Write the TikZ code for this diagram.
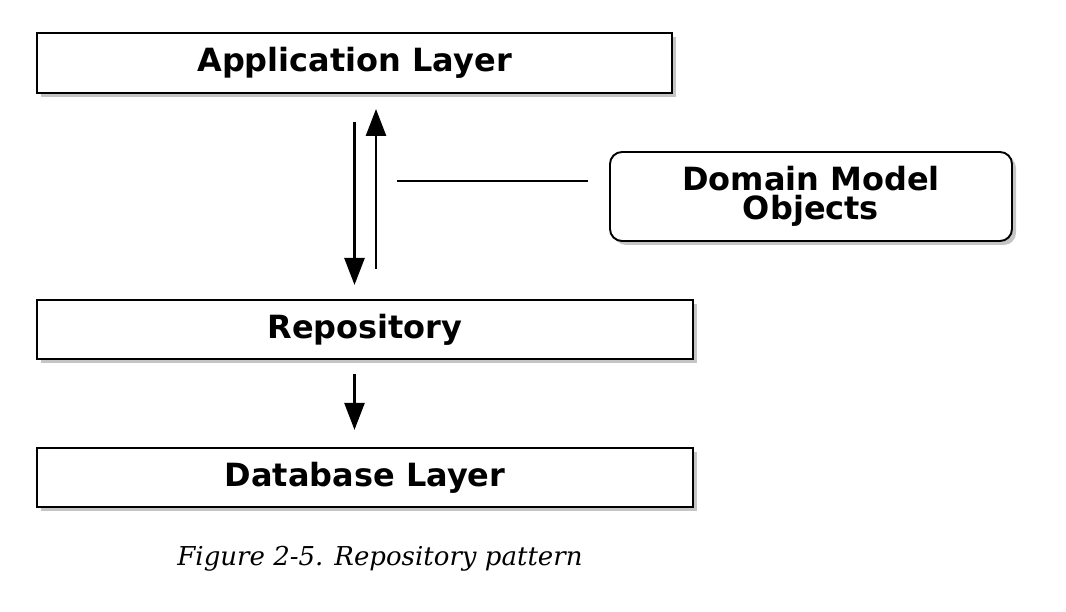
\documentclass[tikz,border=0pt]{standalone}
\usepackage{fontspec}
\setmainfont{DejaVu Sans}
\newfontfamily\captionfont{DejaVu Serif}
\usepackage{tikz}
\usetikzlibrary{calc, positioning, arrows.meta, shadows}
\tikzset{
    layer/.style={rectangle, draw=black, line width=1.1pt, fill=white, minimum width=13.12cm, minimum height=1.18cm, align=center, font=\fontsize{18.2}{16.5}\selectfont\bfseries, drop shadow={shadow xshift=0.08cm, shadow yshift=-0.08cm, fill=black!45}},
    model/.style={layer, rounded corners=0.24cm, minimum width=8.04cm, minimum height=1.78cm},
    line/.style={-{Triangle[length=0.54cm, width=0.4cm]}, line width=1.5pt},
    connect/.style={line width=1.1pt}
}

\begin{document}
\begin{tikzpicture}
    \useasboundingbox (0,0) rectangle (21.32,-12.24);

    % --- LAYERS (Left Side) ---
    \node[layer, minimum width=12.7cm, minimum height=1.2cm] (AppLayer) at (7.09,-1.26) {Application Layer};
    \node[layer, below=4.1cm of AppLayer.south west, anchor=north west] (Repo) {Repository};
    \node[layer, below=1.74cm of Repo.south west, anchor=north west] (DBLayer) {Database Layer};

    % --- DOMAIN MODEL (Right Side) ---
    \node[model] (Domain) at (16.22,-3.93) {Domain Model\\Objects};

    % Requests and results
    \draw[line, shorten <=0.56cm, shorten >=0.28cm] (AppLayer.south) -- (AppLayer.south |- Repo.north);
    \draw[line, shorten <=0.6cm, shorten >=0.3cm] ([xshift=0.43cm]AppLayer.south |- Repo.north) -- ([xshift=0.43cm]AppLayer.south);

    % Link to domain objects
    \coordinate (LinkStart) at (7.94,-3.62);
    \draw[connect, shorten >=0.42cm] (LinkStart) -- (LinkStart -| Domain.west);

    % Repository to database
    \draw[line, shorten <=0.28cm, shorten >=0.34cm] (AppLayer.south |- Repo.south) -- (AppLayer.south |- DBLayer.north);

    % Caption
    \node[font=\captionfont\itshape\fontsize{14.8}{17}\selectfont] (Caption) at (7.6,-11.18) {Figure 2-5. Repository pattern};

\end{tikzpicture}
\end{document}
